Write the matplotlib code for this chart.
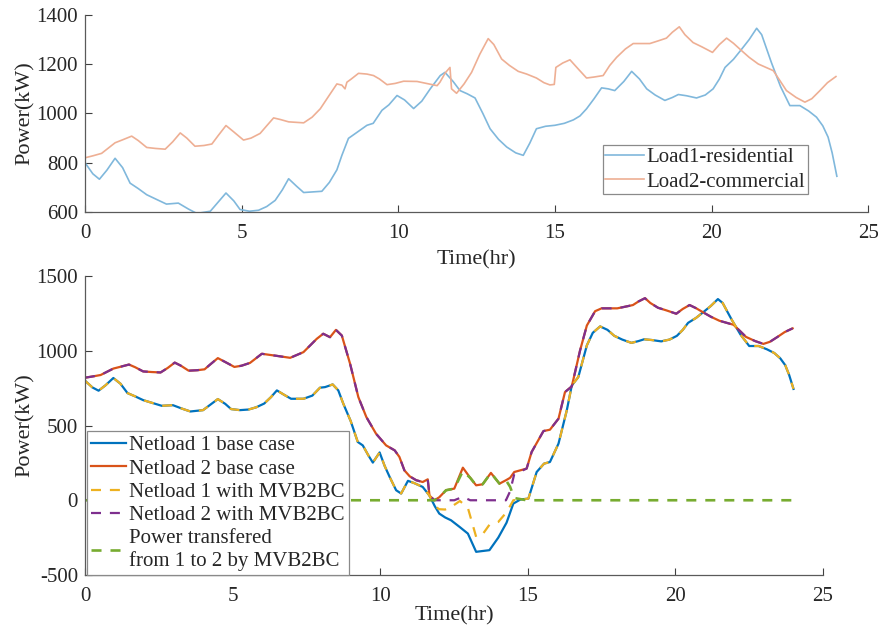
import matplotlib.pyplot as plt

plt.rcParams['font.family'] = ['Liberation Serif', 'DejaVu Serif']
plt.rcParams['axes.unicode_minus'] = False
plt.rcParams['text.color'] = '#262626'
plt.rcParams['axes.labelcolor'] = '#262626'
plt.rcParams['xtick.color'] = '#404040'
plt.rcParams['ytick.color'] = '#404040'
plt.rcParams['xtick.labelcolor'] = '#262626'
plt.rcParams['ytick.labelcolor'] = '#262626'

# ---- top plot: raw loads (hr, kW) ----
t_load1 = [0.0, 0.25, 0.46, 0.7, 0.96, 1.2, 1.44, 1.7, 1.97, 2.3, 2.6, 2.98, 3.3, 3.57, 4.0,
           4.25, 4.5, 4.75, 4.95, 5.25, 5.54, 5.8, 6.07, 6.3, 6.5, 6.75, 6.98, 7.56, 7.8, 8.04,
           8.2, 8.41, 8.7, 9.0, 9.2, 9.48, 9.7, 9.96, 10.2, 10.49, 10.75, 11.02, 11.34, 11.49,
           11.75, 11.97, 12.2, 12.45, 12.7, 12.93, 13.2, 13.46, 13.75, 13.99, 14.2, 14.41, 14.7,
           15.0, 15.3, 15.59, 15.8, 16.01, 16.25, 16.49, 16.7, 16.91, 17.2, 17.45, 17.7, 17.93,
           18.2, 18.51, 18.75, 18.94, 19.2, 19.52, 19.8, 20.05, 20.25, 20.43, 20.7, 20.96, 21.2,
           21.44, 21.6, 21.91, 22.2, 22.5, 22.82, 23.1, 23.35, 23.55, 23.72, 23.85, 24.0]
load1 = [800, 755, 733, 770, 818, 780, 717, 695, 670, 650, 632, 636, 612, 594, 603,
         640, 677, 645, 610, 603, 607, 622, 647, 690, 735, 705, 679, 684, 720, 771,
         830, 899, 925, 952, 960, 1013, 1035, 1073, 1055, 1020, 1050, 1100, 1154, 1167,
         1130, 1093, 1080, 1063, 1000, 938, 895, 864, 840, 830, 880, 938, 948,
         952, 960, 974, 990, 1019, 1060, 1104, 1100, 1093, 1130, 1171, 1140, 1100,
         1075, 1053, 1065, 1077, 1072, 1063, 1075, 1100, 1140, 1187, 1220, 1261, 1300,
         1346, 1320, 1207, 1110, 1032, 1032, 1010, 985, 950, 904, 840, 745]

t_load2 = [0.0, 0.25, 0.53, 0.75, 0.96, 1.2, 1.49, 1.7, 1.97, 2.25, 2.56, 2.8, 3.04, 3.25, 3.51,
           3.8, 4.05, 4.25, 4.5, 4.75, 5.06, 5.3, 5.59, 5.8, 6.02, 6.25, 6.5, 6.98, 7.25, 7.51,
           7.75, 8.04, 8.2, 8.3, 8.36, 8.5, 8.73, 9.0, 9.21, 9.4, 9.64, 9.9, 10.17, 10.6, 10.9,
           11.24, 11.33, 11.5, 11.65, 11.7, 11.86, 12.1, 12.34, 12.6, 12.87, 13.05, 13.3, 13.55,
           13.83, 14.1, 14.41, 14.65, 14.84, 14.98, 15.03, 15.25, 15.48, 15.75, 16.01, 16.25,
           16.54, 16.75, 16.97, 17.25, 17.5, 18.03, 18.3, 18.56, 18.75, 18.97, 19.15, 19.41,
           19.7, 20.03, 20.25, 20.48, 20.7, 20.96, 21.2, 21.49, 21.97, 22.2, 22.39, 22.7, 22.98,
           23.2, 23.46, 23.7, 23.97]
load2 = [820, 828, 838, 860, 881, 893, 908, 890, 862, 858, 855, 885, 921, 900, 867,
         870, 876, 910, 951, 925, 892, 900, 919, 950, 982, 975, 966, 962, 985, 1019,
         1065, 1120, 1115, 1100, 1127, 1140, 1163, 1160, 1154, 1140, 1117, 1122, 1131, 1130, 1122,
         1113, 1127, 1165, 1187, 1100, 1082, 1120, 1167, 1240, 1304, 1280, 1221, 1195,
         1171, 1160, 1144, 1125, 1116, 1118, 1187, 1205, 1218, 1180, 1144, 1148,
         1154, 1195, 1228, 1262, 1284, 1284, 1295, 1306, 1330, 1352, 1320, 1288,
         1270, 1248, 1280, 1306, 1285, 1255, 1228, 1201, 1174, 1130, 1093, 1065, 1046,
         1060, 1093, 1125, 1150]

# ---- bottom plot: net loads (hr, kW) ----
t_net1 = [0.0, 0.25, 0.46, 0.7, 0.96, 1.2, 1.44, 1.7, 1.97, 2.3, 2.6, 2.98, 3.3, 3.57, 4.0,
          4.25, 4.5, 4.75, 4.95, 5.25, 5.54, 5.8, 6.07, 6.3, 6.5, 6.75, 6.98, 7.4, 7.7, 7.96,
          8.13, 8.25, 8.39, 8.58, 8.75, 9.0, 9.24, 9.41, 9.6, 9.75, 9.98, 10.15, 10.32, 10.54,
          10.71, 10.94, 11.15, 11.44, 11.67, 11.85, 12.0, 12.2, 12.4, 12.7, 12.97, 13.25, 13.45,
          13.7, 14.0, 14.28, 14.51, 14.75, 15.02, 15.3, 15.55, 15.75, 16.04, 16.32, 16.49, 16.71,
          17.0, 17.2, 17.45, 17.7, 17.93, 18.2, 18.51, 18.75, 18.94, 19.2, 19.52, 19.8, 20.05,
          20.25, 20.43, 20.7, 20.96, 21.2, 21.44, 21.6, 21.91, 22.2, 22.5, 22.82, 23.1, 23.35,
          23.55, 23.72, 23.85, 24.0]
net1 = [800, 755, 733, 770, 818, 780, 717, 695, 670, 650, 632, 636, 612, 594, 603,
        640, 677, 645, 610, 603, 607, 622, 647, 690, 735, 705, 679, 679, 700, 753,
        757, 765, 775, 735, 646, 530, 390, 367, 300, 252, 320, 230, 156, 67,
        45, 130, 115, 89, 31, -40, -89, -115, -134, -180, -223, -345, -340,
        -334, -250, -150, -22, 5, 11, 189, 245, 256, 379, 601, 768, 824,
        1036, 1120, 1163, 1140, 1100, 1075, 1053, 1065, 1077, 1072, 1063, 1075, 1100,
        1140, 1187, 1220, 1261, 1300, 1346, 1320, 1207, 1110, 1032, 1032, 1010, 985,
        950, 904, 840, 745]
# netload 1 with MVB2BC differs only around noon
net1_mvb_window = {11.85: -40, 12.0: -60, 12.2: -62, 12.4: -45, 12.7: -5, 12.97: -51,
                   13.25: -245, 13.45: -233, 13.7: -164, 14.0: -145, 14.28: -80, 14.51: 0,
                   14.75: 5}

t_net2 = [0.0, 0.25, 0.53, 0.75, 0.96, 1.2, 1.49, 1.7, 1.97, 2.25, 2.56, 2.8, 3.04, 3.25, 3.51,
          3.8, 4.05, 4.25, 4.5, 4.75, 5.06, 5.3, 5.59, 5.99, 6.5, 6.95, 7.4, 7.85, 8.07, 8.3,
          8.5, 8.7, 8.98, 9.26, 9.53, 9.86, 10.2, 10.49, 10.65, 10.82, 11.0, 11.22, 11.44, 11.61,
          11.67, 11.84, 12.0, 12.23, 12.51, 12.8, 13.05, 13.25, 13.47, 13.75, 14.04, 14.26, 14.4,
          14.54, 14.96, 15.13, 15.53, 15.75, 16.04, 16.26, 16.49, 16.77, 17.0, 17.28, 17.5, 18.03,
          18.3, 18.56, 18.75, 18.97, 19.15, 19.41, 19.7, 20.03, 20.25, 20.48, 20.7, 20.96, 21.2,
          21.49, 21.97, 22.2, 22.39, 22.7, 22.98, 23.2, 23.46, 23.7, 23.97]
net2 = [820, 828, 838, 860, 881, 893, 908, 890, 862, 858, 855, 885, 921, 900, 867,
        870, 876, 910, 951, 925, 892, 900, 919, 980, 966, 953, 991, 1080, 1114, 1091,
        1140, 1102, 913, 690, 557, 445, 367, 334, 290, 200, 160, 134, 122, 140,
        31, 0, 20, 67, 78, 218, 150, 100, 107, 183, 111, 134, 150,
        189, 212, 323, 463, 472, 546, 724, 762, 1002, 1169, 1265, 1284, 1284,
        1295, 1306, 1330, 1352, 1320, 1288, 1270, 1248, 1280, 1306, 1285, 1255, 1228,
        1201, 1174, 1130, 1093, 1065, 1046, 1060, 1093, 1125, 1150]
net2_mvb_window = {12.0: 0, 12.23: 0, 12.51: 0, 12.8: 23, 13.05: 0, 13.25: 0, 13.47: 0,
                   13.75: 0, 14.04: 0, 14.26: 0, 14.4: 60, 14.54: 174}
# power sent from feeder 1 to feeder 2, zero outside this window
transfer_window = {12.0: 20, 12.23: 67, 12.51: 78, 12.8: 195, 13.05: 150, 13.25: 100,
                   13.47: 107, 13.75: 183, 14.04: 111, 14.26: 134, 14.4: 90, 14.54: 15}

net1_mvb = [net1_mvb_window.get(t, v) for t, v in zip(t_net1, net1)]
net2_mvb = [net2_mvb_window.get(t, v) for t, v in zip(t_net2, net2)]
transfer = [transfer_window.get(t, 0) for t in t_net2]

blue = '#0072BD'
orange = '#D95319'
yellow = '#EDB120'
purple = '#7E2F8E'
green = '#77AC30'

fig = plt.figure(figsize=(8.79, 6.32), dpi=100)


def style(ax):
    ax.spines['top'].set_visible(False)
    ax.spines['right'].set_visible(False)
    for s in ['left', 'bottom']:
        ax.spines[s].set_color('#5a5a5a')
        ax.spines[s].set_linewidth(0.9)
    ax.tick_params(direction='in', length=5, width=0.8, labelsize=15, pad=5)
    ax.tick_params(axis='x', pad=9)


ax1 = fig.add_axes([0.0967, 0.6646, 0.891, 0.3117])
ax1.plot(t_load1, load1, color='#80b8dc', lw=1.2, label='Load1-residential')
ax1.plot(t_load2, load2, color='#eeaf94', lw=1.2, label='Load2-commercial')
ax1.set_xlim(0, 25)
ax1.set_ylim(600, 1400)
ax1.set_xticks(range(0, 26, 5))
ax1.set_yticks(range(600, 1401, 200))
ax1.set_xlabel('Time(hr)', fontsize=16, labelpad=5)
ax1.set_ylabel('Power(kW)', fontsize=16, labelpad=1)
style(ax1)
leg1 = ax1.legend(loc='lower right', bbox_to_anchor=(0.923, 0.091), fontsize=15,
                  fancybox=False, edgecolor='#8a8a8a', framealpha=1, borderpad=0.12,
                  labelspacing=0.22, handlelength=1.85, handletextpad=0.15, borderaxespad=0)
leg1.get_frame().set_linewidth(0.9)

ax2 = fig.add_axes([0.0967, 0.0902, 0.8396, 0.473])
ax2.plot(t_net1, net1, color=blue, lw=1.6, label='Netload 1 base case')
ax2.plot(t_net2, net2, color=orange, lw=1.6, label='Netload 2 base case')
ax2.plot(t_net1, net1_mvb, color=yellow, lw=1.6, dashes=(4.5, 4), label='Netload 1 with MVB2BC')
ax2.plot(t_net2, net2_mvb, color=purple, lw=1.6, dashes=(4.5, 4), label='Netload 2 with MVB2BC')
ax2.plot(t_net2, transfer, color=green, lw=1.9, dashes=(3.8, 3.4),
         label='Power transfered\nfrom 1 to 2 by MVB2BC')
ax2.set_xlim(0, 25)
ax2.set_ylim(-500, 1500)
ax2.set_xticks(range(0, 26, 5))
ax2.set_yticks(range(-500, 1501, 500))
ax2.set_xlabel('Time(hr)', fontsize=16, labelpad=0)
ax2.set_ylabel('Power(kW)', fontsize=16, labelpad=1)
style(ax2)
leg2 = ax2.legend(loc='lower left', bbox_to_anchor=(0.003, 0.0), fontsize=15,
                  fancybox=False, edgecolor='#8a8a8a', framealpha=1, borderpad=0.2,
                  labelspacing=0.18, handlelength=1.65, handletextpad=0.15, borderaxespad=0)
leg2.get_frame().set_linewidth(0.9)

plt.savefig('out.png', dpi=100)
